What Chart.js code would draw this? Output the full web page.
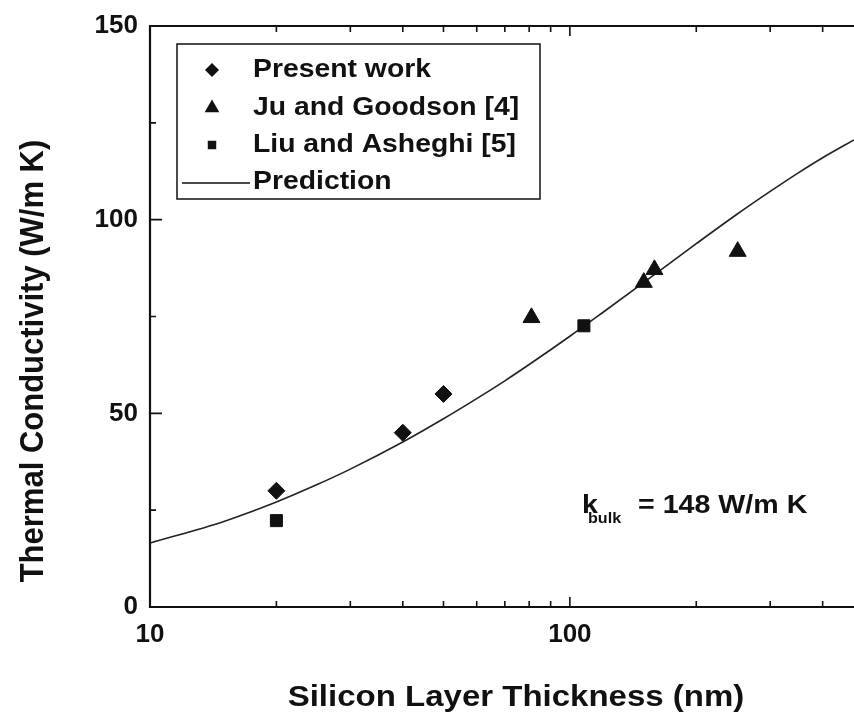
<!DOCTYPE html>
<html>
<head>
<meta charset="utf-8">
<script src="https://cdn.jsdelivr.net/npm/chart.js@4.4.1/dist/chart.umd.min.js"></script>
<style>
  html, body { margin: 0; padding: 0; background: #fff; overflow: hidden; }
  canvas { display: block; }
</style>
</head>
<body>
<canvas id="c" width="854" height="715"></canvas>
<script>
// Measured thermal conductivity of thin silicon layers (W/m K) vs thickness (nm)
const presentX = [20, 40, 50];
const presentY = [30, 45, 55];

const juX = [81, 150, 159, 251];
const juY = [74.7, 83.8, 87.1, 91.8];

const liuX = [20, 108];
const liuY = [22.3, 72.6];

// Model prediction curve
const predX = [10, 15, 20, 25, 30, 40, 50, 60, 70, 80, 100, 120, 150, 200, 250, 300, 350, 400, 475];
const predY = [16.5, 22.1, 27.1, 31.6, 35.6, 42.6, 48.6, 53.8, 58.4, 62.6, 69.9, 76.1, 83.8, 93.8, 101.4, 107.3, 112.1, 116.0, 120.6];

// Axis ticks
const xTickLabels = [10, 100];
const xMinorTicks = [20, 30, 40, 50, 60, 70, 80, 90, 200, 300, 400];
const yTickLabels = [0, 50, 100, 150];
const yMinorTicks = [25, 75, 125];

const seriesNames = ['Present work', 'Ju and Goodson [4]', 'Liu and Asheghi [5]', 'Prediction'];
const xTitle = 'Silicon Layer Thickness (nm)';
const yTitle = 'Thermal Conductivity (W/m K)';
const noteMain = 'k';
const noteSub = 'bulk';
const noteRest = '= 148 W/m K';

const FONT = '"Liberation Sans", Arial, Helvetica, sans-serif';
const INK = '#111';

const pts = (xs, ys) => xs.map((x, i) => ({ x: x, y: ys[i] }));

function stretchText(ctx, text, x, y, size, sx, align) {
  ctx.save();
  ctx.translate(x, y);
  ctx.scale(sx, 1);
  ctx.font = 'bold ' + size + 'px ' + FONT;
  ctx.textAlign = align || 'left';
  ctx.textBaseline = 'alphabetic';
  ctx.fillStyle = INK;
  ctx.fillText(text, 0, 0);
  ctx.restore();
}

function marker(ctx, style, x, y, r) {
  ctx.beginPath();
  if (style === 'rectRot') {
    ctx.moveTo(x, y - r); ctx.lineTo(x + r, y); ctx.lineTo(x, y + r); ctx.lineTo(x - r, y);
  } else if (style === 'triangle') {
    ctx.moveTo(x, y - r);
    ctx.lineTo(x + r * 0.866, y + r / 2);
    ctx.lineTo(x - r * 0.866, y + r / 2);
  } else {
    const s = r * Math.SQRT1_2;
    ctx.rect(x - s, y - s, 2 * s, 2 * s);
  }
  ctx.closePath();
  ctx.fillStyle = INK;
  ctx.fill();
}

const decor = {
  id: 'decor',
  afterDraw(chart) {
    const ctx = chart.ctx;
    const a = chart.chartArea;
    const xs = chart.scales.x, ys = chart.scales.y;
    ctx.save();
    ctx.strokeStyle = INK;
    ctx.lineWidth = 2.2;
    // frame: top, left, bottom (right side runs off the canvas)
    ctx.beginPath();
    ctx.moveTo(a.right + 5, a.top);
    ctx.lineTo(a.left, a.top);
    ctx.lineTo(a.left, a.bottom);
    ctx.lineTo(a.right + 5, a.bottom);
    ctx.stroke();

    // inward ticks
    ctx.lineWidth = 1.6;
    ctx.beginPath();
    const xt = (v, len) => {
      const px = xs.getPixelForValue(v);
      ctx.moveTo(px, a.bottom); ctx.lineTo(px, a.bottom - len);
      ctx.moveTo(px, a.top); ctx.lineTo(px, a.top + len);
    };
    xTickLabels.forEach(v => xt(v, 10));
    xMinorTicks.forEach(v => xt(v, 6));
    const yt = (v, len) => {
      const py = ys.getPixelForValue(v);
      ctx.moveTo(a.left, py); ctx.lineTo(a.left + len, py);
    };
    yTickLabels.forEach(v => yt(v, 12));
    yMinorTicks.forEach(v => yt(v, 6));
    ctx.stroke();

    // axis titles
    stretchText(ctx, xTitle, 516, 706, 30, 1.1, 'center');
    ctx.save();
    ctx.translate(43, 361);
    ctx.rotate(-Math.PI / 2);
    ctx.scale(1, 1.1);
    ctx.font = 'bold 31px ' + FONT;
    ctx.textAlign = 'center';
    ctx.textBaseline = 'alphabetic';
    ctx.fillStyle = INK;
    ctx.fillText(yTitle, 0, 0);
    ctx.restore();

    // legend box
    ctx.lineWidth = 1.5;
    ctx.strokeStyle = INK;
    ctx.strokeRect(177, 44, 363, 155);
    const styles = ['rectRot', 'triangle', 'rect'];
    const sizes = [7, 8.5, 6];
    const markY = [70, 108, 145];
    const textY = [77, 115, 152, 189];
    styles.forEach((s, i) => marker(ctx, s, 212, markY[i], sizes[i]));
    ctx.lineWidth = 1.5;
    ctx.beginPath();
    ctx.moveTo(182, 183); ctx.lineTo(250, 183);
    ctx.stroke();
    seriesNames.forEach((n, i) => stretchText(ctx, n, 253, textY[i], 26, 1.09, 'left'));

    // bulk conductivity note
    stretchText(ctx, noteMain, 582, 513, 26, 1.1, 'left');
    stretchText(ctx, noteSub, 588, 523, 14, 1.15, 'left');
    stretchText(ctx, noteRest, 638, 513, 26, 1.1, 'left');
    ctx.restore();
  }
};

new Chart(document.getElementById('c'), {
  type: 'scatter',
  data: {
    datasets: [
      { label: seriesNames[0], data: pts(presentX, presentY), pointStyle: 'rectRot', pointRadius: 8.5,
        backgroundColor: INK, borderColor: INK, pointBorderWidth: 1, showLine: false },
      { label: seriesNames[1], data: pts(juX, juY), pointStyle: 'triangle', pointRadius: 9.8,
        backgroundColor: INK, borderColor: INK, pointBorderWidth: 1, showLine: false },
      { label: seriesNames[2], data: pts(liuX, liuY), pointStyle: 'rect', pointRadius: 8.5,
        backgroundColor: INK, borderColor: INK, pointBorderWidth: 1, showLine: false },
      { label: seriesNames[3], data: pts(predX, predY), showLine: true, pointRadius: 0,
        borderColor: '#222', borderWidth: 1.6, cubicInterpolationMode: 'monotone', fill: false }
    ]
  },
  options: {
    responsive: false,
    animation: false,
    devicePixelRatio: 1,
    layout: { autoPadding: false, padding: { top: 26, left: 0, right: 0, bottom: 0 } },
    plugins: { legend: { display: false }, tooltip: { enabled: false } },
    scales: {
      x: {
        type: 'logarithmic', min: 10, max: 475, position: 'bottom',
        grid: { display: false, drawTicks: false },
        border: { display: false },
        afterBuildTicks: axis => { axis.ticks = xTickLabels.map(v => ({ value: v })); },
        afterFit: s => { s.height = 108; s.paddingLeft = 0; s.paddingRight = 0; },
        ticks: {
          autoSkip: false, maxRotation: 0, padding: 12, color: INK,
          font: { family: FONT, size: 26, weight: 'bold' },
          callback: v => String(v)
        }
      },
      y: {
        type: 'linear', min: 0, max: 150,
        grid: { display: false, drawTicks: false },
        border: { display: false },
        afterBuildTicks: axis => { axis.ticks = yTickLabels.map(v => ({ value: v })); },
        afterFit: s => { s.width = 150; s.paddingTop = 0; s.paddingBottom = 0; },
        ticks: {
          padding: 12, color: INK,
          font: { family: FONT, size: 26, weight: 'bold' }
        }
      }
    }
  },
  plugins: [decor]
});
</script>
</body>
</html>
